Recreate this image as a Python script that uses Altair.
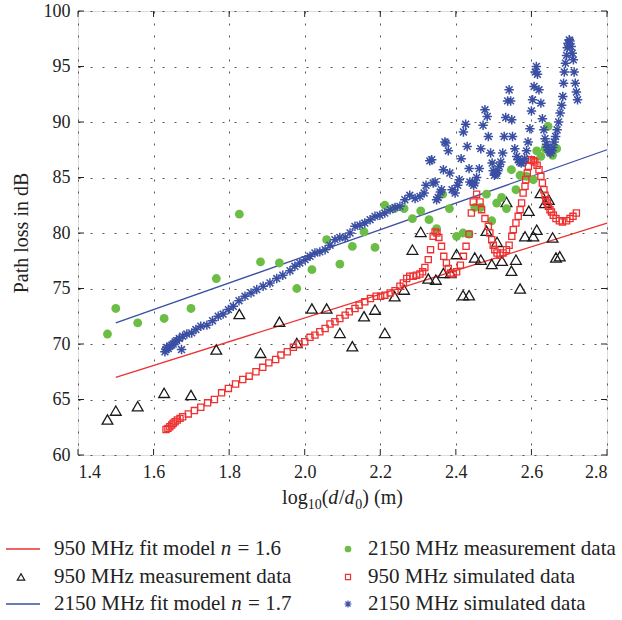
import altair as alt
import pandas as pd

# ---------------- data ----------------
fit950_x = [1.5, 2.8]
fit950_y = [67.0, 80.9]
fit2150_x = [1.5, 2.8]
fit2150_y = [71.9, 87.5]

meas950_x = [1.478, 1.500, 1.558, 1.628, 1.699, 1.766, 1.827, 1.883, 1.933, 1.979,
             2.019, 2.058, 2.093, 2.126, 2.157, 2.186, 2.212, 2.238, 2.263, 2.285,
             2.307, 2.327, 2.347, 2.367, 2.386, 2.402, 2.419, 2.435, 2.450, 2.466,
             2.481, 2.495, 2.509, 2.522, 2.534, 2.547, 2.559, 2.570, 2.583, 2.593,
             2.605, 2.614, 2.624, 2.636, 2.646, 2.656, 2.665, 2.675]
meas950_y = [63.2, 64.0, 64.4, 65.6, 65.4, 69.5, 72.7, 69.2, 72.0, 70.1,
             73.2, 73.2, 71.0, 69.8, 72.5, 73.1, 71.0, 74.3, 74.9, 78.5,
             80.1, 75.9, 75.8, 76.4, 76.4, 78.1, 74.4, 74.4, 77.8, 77.6,
             80.2, 77.2, 79.2, 77.5, 82.8, 76.6, 77.6, 75.0, 79.7, 82.0,
             79.7, 80.3, 83.6, 82.7, 83.0, 79.6, 77.8, 77.9]

meas2150_x = [1.478, 1.500, 1.558, 1.628, 1.699, 1.766, 1.827, 1.883, 1.933, 1.979,
              2.019, 2.058, 2.093, 2.126, 2.157, 2.186, 2.212, 2.237, 2.263, 2.285,
              2.307, 2.329, 2.349, 2.365, 2.383, 2.402, 2.419, 2.435, 2.450, 2.466,
              2.481, 2.495, 2.508, 2.521, 2.534, 2.547, 2.559, 2.570, 2.587, 2.605,
              2.614, 2.625, 2.636, 2.644, 2.656, 2.667]
meas2150_y = [70.9, 73.2, 71.9, 72.3, 73.2, 75.9, 81.7, 77.4, 77.3, 75.0,
              76.7, 79.4, 77.2, 78.8, 80.1, 78.7, 82.5, 82.2, 82.2, 81.3,
              82.0, 81.2, 80.4, 83.5, 82.2, 79.7, 80.0, 79.9, 82.3, 82.3,
              83.5, 81.1, 82.7, 83.2, 82.2, 85.7, 83.9, 85.2, 85.1, 84.8,
              87.4, 86.9, 87.6, 89.6, 87.0, 87.6]

sim950_x = [1.633, 1.638, 1.643, 1.648, 1.652, 1.657, 1.663, 1.670, 1.677, 1.692,
            1.708, 1.725, 1.743, 1.761, 1.780, 1.798, 1.817, 1.836, 1.853, 1.871,
            1.889, 1.905, 1.923, 1.937, 1.954, 1.970, 1.985, 2.000, 2.014, 2.027,
            2.040, 2.054, 2.067, 2.080, 2.093, 2.107, 2.118, 2.133, 2.144, 2.159,
            2.174, 2.189, 2.201, 2.212, 2.226, 2.239, 2.252, 2.261, 2.270, 2.278,
            2.287, 2.296, 2.305, 2.312, 2.318, 2.327, 2.333, 2.340, 2.345, 2.350,
            2.355, 2.362, 2.368, 2.375, 2.380, 2.386, 2.393, 2.402, 2.412, 2.420,
            2.427, 2.435, 2.441, 2.446, 2.455, 2.464, 2.468, 2.477, 2.486, 2.490,
            2.495, 2.499, 2.503, 2.509, 2.517, 2.525, 2.534, 2.541, 2.548, 2.552,
            2.559, 2.565, 2.570, 2.574, 2.578, 2.583, 2.585, 2.589, 2.592, 2.596,
            2.600, 2.605, 2.609, 2.615, 2.620, 2.625, 2.629, 2.633, 2.636, 2.638,
            2.642, 2.645, 2.649, 2.653, 2.658, 2.665, 2.674, 2.682, 2.693, 2.702,
            2.710, 2.719]
sim950_y = [62.3, 62.4, 62.55, 62.7, 62.86, 63.0, 63.15, 63.3, 63.45, 63.7,
            64.0, 64.3, 64.7, 65.0, 65.6, 66.0, 66.4, 66.8, 67.1, 67.5,
            67.9, 68.3, 68.6, 69.0, 69.3, 69.7, 70.0, 70.2, 70.6, 70.8,
            71.1, 71.4, 71.8, 72.0, 72.3, 72.6, 72.9, 73.2, 73.5, 73.8,
            74.1, 74.3, 74.3, 74.4, 74.6, 74.8, 75.2, 75.5, 75.9, 76.1,
            76.1, 76.2, 76.3, 76.5, 76.9, 77.6, 78.5, 79.7, 80.1, 80.0,
            79.6, 78.8, 77.9, 77.3, 76.8, 76.4, 76.3, 76.5, 77.1, 77.9,
            78.8, 79.9, 81.8, 82.8, 83.5, 82.8, 82.1, 81.3, 80.6, 80.0,
            79.4, 78.9, 78.5, 78.2, 78.0, 78.2, 78.5, 78.9, 79.7, 80.3,
            80.9, 81.5, 82.1, 82.7, 83.6, 84.2, 84.8, 85.4, 86.0, 86.6,
            86.6, 86.5, 86.4, 86.1, 85.7, 85.1, 84.5, 83.9, 83.4, 83.0,
            82.7, 82.4, 82.1, 81.9, 81.6, 81.3, 81.1, 81.0, 81.1, 81.3,
            81.5, 81.8]

sim2150_x = [1.630, 1.633, 1.635, 1.639, 1.643, 1.648, 1.652, 1.657, 1.661, 1.668,
             1.674, 1.677, 1.688, 1.701, 1.712, 1.725, 1.741, 1.756, 1.771, 1.784,
             1.798, 1.811, 1.826, 1.842, 1.858, 1.873, 1.890, 1.908, 1.926, 1.942,
             1.961, 1.974, 1.987, 2.001, 2.014, 2.027, 2.040, 2.054, 2.067, 2.080,
             2.093, 2.107, 2.120, 2.133, 2.146, 2.159, 2.173, 2.186, 2.199, 2.212,
             2.226, 2.239, 2.252, 2.265, 2.278, 2.292, 2.305, 2.316, 2.321, 2.331,
             2.336, 2.340, 2.345, 2.349, 2.353, 2.359, 2.362, 2.367, 2.371, 2.374,
             2.380, 2.384, 2.390, 2.398, 2.405, 2.409, 2.414, 2.420, 2.426, 2.430,
             2.435, 2.437, 2.443, 2.447, 2.450, 2.455, 2.462, 2.466, 2.472, 2.477,
             2.483, 2.486, 2.492, 2.496, 2.499, 2.502, 2.505, 2.508, 2.511, 2.515,
             2.519, 2.524, 2.528, 2.532, 2.537, 2.541, 2.545, 2.548, 2.550, 2.556,
             2.561, 2.565, 2.569, 2.573, 2.578, 2.582, 2.587, 2.591, 2.596, 2.600,
             2.603, 2.607, 2.610, 2.613, 2.616, 2.620, 2.625, 2.629, 2.633, 2.636,
             2.640, 2.642, 2.645, 2.648, 2.651, 2.654, 2.657, 2.660, 2.664, 2.668,
             2.672, 2.676, 2.680, 2.683, 2.685, 2.687, 2.690, 2.693, 2.695, 2.697,
             2.700, 2.702, 2.705, 2.708, 2.711, 2.713, 2.716, 2.719, 2.722]
sim2150_y = [69.3, 69.5, 69.7, 69.6, 69.8, 69.9, 70.0, 70.2, 70.3, 70.5,
             69.5, 70.7, 70.9, 71.0, 71.3, 71.6, 71.7, 72.1, 72.5, 72.7,
             73.1, 73.4, 73.9, 74.3, 74.6, 74.9, 75.2, 75.5, 75.9, 76.2,
             76.6, 77.0, 77.3, 77.6, 77.9, 78.2, 78.3, 78.5, 78.9, 79.4,
             79.6, 79.6, 80.0, 80.6, 80.7, 80.9, 81.2, 81.5, 81.6, 81.8,
             82.1, 82.3, 82.4, 83.0, 83.4, 83.1, 83.3, 83.6, 84.3, 86.5,
             86.6, 84.5, 84.6, 83.0, 83.2, 83.7, 83.9, 85.7, 88.2, 88.1,
             87.4, 85.4, 83.9, 83.6, 84.3, 84.8, 86.7, 89.1, 89.8, 87.8,
             85.8, 84.6, 84.5, 84.3, 84.5, 85.0, 85.8, 87.6, 89.7, 91.1,
             90.5, 88.7, 87.2, 86.3, 85.6, 85.2, 85.3, 85.4, 85.6, 86.0,
             86.4, 87.2, 88.7, 90.4, 91.9, 92.9, 91.9, 90.2, 88.7, 87.6,
             86.9, 86.6, 86.4, 86.3, 86.4, 86.7, 87.4, 88.2, 89.4, 91.0,
             92.0, 93.2, 94.5, 95.0, 94.3, 92.9, 91.7, 90.3, 89.3, 88.5,
             88.0, 87.7, 87.5, 87.3, 87.2, 87.4, 87.7, 88.2, 88.7, 89.3,
             90.0, 90.8, 91.5, 92.3, 93.5, 94.5, 95.3, 96.0, 96.7, 97.1,
             97.4, 97.3, 96.8, 96.2, 95.6, 94.5, 93.5, 92.7, 92.0]

x_ticks = [1.4, 1.6, 1.8, 2.0, 2.2, 2.4, 2.6, 2.8]
y_ticks = [60, 65, 70, 75, 80, 85, 90, 95, 100]

legend_labels = ["950 MHz fit model", "950 MHz measurement data", "2150 MHz fit model",
                 "2150 MHz measurement data", "950 MHz simulated data", "2150 MHz simulated data"]
legend_n_values = ["= 1.6", "= 1.7"]

# ---------------- style ----------------
FONT = "Liberation Serif"
RED = "#ee3030"
BLUE = "#3a4fa3"
GREEN = "#6cbd45"
BLACK = "#1a1a1a"
W, H = 529, 444
PL, PT = 78, 11
STAR = "M-1,0L1,0M0,-1L0,1M-0.72,-0.72L0.72,0.72M-0.72,0.72L0.72,-0.72"

# Times (Liberation Serif) advance widths per 1000 em, for placing text pieces
TW = {" ": 250, "l": 278, "o": 500, "g": 500, "(": 333, ")": 333, "/": 278, "m": 778,
      "d": 500, "n": 500, "=": 564, ".": 250, "M": 889, "H": 722, "z": 444, "f": 333,
      "i": 278, "t": 278, "e": 444}
for c in "0123456789":
    TW[c] = 500


def tw(s, size):
    return sum(TW.get(c, 500) for c in s) * size / 1000.0


xs = alt.Scale(domain=[1.4, 2.8], nice=False, zero=False)
ys = alt.Scale(domain=[60, 100], nice=False, zero=False)
xaxis = alt.Axis(values=x_ticks, format=".1f", title=None, grid=True, gridDash=[2, 10],
                 gridColor="#555", gridWidth=1, domain=False, ticks=False,
                 labelFont=FONT, labelFontSize=18, labelColor="#222", labelPadding=8)
yaxis = alt.Axis(values=y_ticks, format="d", title=None, grid=True, gridDash=[2, 10],
                 gridColor="#555", gridWidth=1, domain=False, ticks=False,
                 labelFont=FONT, labelFontSize=18, labelColor="#222", labelPadding=8)


def X(f="x"):
    return alt.X(f + ":Q", scale=xs, axis=xaxis, title=None)


def Y(f="y"):
    return alt.Y(f + ":Q", scale=ys, axis=yaxis, title=None)


df_f950 = pd.DataFrame({"x": fit950_x, "y": fit950_y})
df_f2150 = pd.DataFrame({"x": fit2150_x, "y": fit2150_y})
df_m950 = pd.DataFrame({"x": meas950_x, "y": meas950_y})
df_m2150 = pd.DataFrame({"x": meas2150_x, "y": meas2150_y})
df_s950 = pd.DataFrame({"x": sim950_x, "y": sim950_y})
df_s2150 = pd.DataFrame({"x": sim2150_x, "y": sim2150_y})
df_xt = pd.DataFrame({"v": x_ticks})
df_yt = pd.DataFrame({"v": y_ticks})
one = pd.DataFrame({"k": [0]})

layers = []
layers.append(alt.Chart(df_f950).mark_line(color=RED, strokeWidth=1.3).encode(x=X(), y=Y()))
layers.append(alt.Chart(df_f2150).mark_line(color=BLUE, strokeWidth=1.3).encode(x=X(), y=Y()))
layers.append(alt.Chart(df_m950).mark_point(shape="triangle-up", filled=False, color=BLACK,
                                             strokeWidth=1.3, size=115, opacity=1).encode(x=X(), y=Y()))
layers.append(alt.Chart(df_m2150).mark_circle(color=GREEN, size=78, opacity=1).encode(x=X(), y=Y()))
layers.append(alt.Chart(df_s950).mark_point(shape="square", filled=False, color=RED,
                                             strokeWidth=1.3, size=38, opacity=1).encode(x=X(), y=Y()))
layers.append(alt.Chart(df_s2150).mark_point(shape=STAR, filled=False, color=BLUE,
                                              strokeWidth=1.5, size=90, opacity=1).encode(x=X(), y=Y()))

# inward ticks on all four sides
layers.append(alt.Chart(df_yt).mark_rule(color="#222").encode(y=Y("v"), x=alt.value(0), x2=alt.value(6)))
layers.append(alt.Chart(df_yt).mark_rule(color="#222").encode(y=Y("v"), x=alt.value(W - 6), x2=alt.value(W)))
layers.append(alt.Chart(df_xt).mark_rule(color="#222").encode(x=X("v"), y=alt.value(H - 6), y2=alt.value(H)))
layers.append(alt.Chart(df_xt).mark_rule(color="#222").encode(x=X("v"), y=alt.value(0), y2=alt.value(6)))

# y-axis title
layers.append(alt.Chart(one).mark_text(text="Path loss in dB", font=FONT, fontSize=20, angle=270,
                                       align="center", baseline="middle", color="#222")
              .encode(x=alt.value(22 - PL), y=alt.value(233 - PT)))

# x-axis title built from pieces: log10(d/d0) (m)
MS, SS = 20, 14
pieces = [("log", MS, "normal", 0), ("10", SS, "normal", 5), ("(", MS, "normal", 0),
          ("d", MS, "italic", 0), ("/", MS, "normal", 0), ("d", MS, "italic", 0),
          ("0", SS, "normal", 5), (")", MS, "normal", 0), ("(m)", MS, "normal", 0)]
total = sum(tw(p[0], p[1]) for p in pieces) + tw(" ", MS) + 1.5
cx = (PL + PL + W) / 2.0 - total / 2.0
base_y = 504
for s, sz, st, dy in pieces:
    if s == "(m)":
        cx += tw(" ", MS)
    layers.append(alt.Chart(one).mark_text(text=s, font=FONT, fontSize=sz, fontStyle=st, align="left",
                                           baseline="alphabetic", color="#222")
                  .encode(x=alt.value(cx - PL), y=alt.value(base_y + dy - PT)))
    cx += tw(s, sz) + (0.75 if st == "italic" else 0)

# legend
LF = 21
rows = [549, 577, 604]
LX_T, RX_S, RX_T = 54, 348, 368
# left column symbols
layers.append(alt.Chart(one).mark_rule(color=RED, strokeWidth=1.3)
              .encode(x=alt.value(6 - PL), x2=alt.value(40 - PL), y=alt.value(rows[0] - PT)))
layers.append(alt.Chart(one).mark_point(shape="triangle-up", filled=False, color=BLACK, strokeWidth=1.2,
                                        size=55, opacity=1)
              .encode(x=alt.value(21 - PL), y=alt.value(rows[1] - PT)))
layers.append(alt.Chart(one).mark_rule(color=BLUE, strokeWidth=1.3)
              .encode(x=alt.value(6 - PL), x2=alt.value(40 - PL), y=alt.value(rows[2] - PT)))
# right column symbols
layers.append(alt.Chart(one).mark_circle(color=GREEN, size=45, opacity=1)
              .encode(x=alt.value(RX_S - PL), y=alt.value(rows[0] - PT)))
layers.append(alt.Chart(one).mark_point(shape="square", filled=False, color=RED, strokeWidth=1.2,
                                        size=26, opacity=1)
              .encode(x=alt.value(RX_S - PL), y=alt.value(rows[1] - PT)))
layers.append(alt.Chart(one).mark_point(shape=STAR, filled=False, color=BLUE, strokeWidth=1.2,
                                        size=50, opacity=1)
              .encode(x=alt.value(RX_S - PL), y=alt.value(rows[2] - PT)))


def txt(s, x, y, style="normal"):
    return (alt.Chart(one).mark_text(text=s, font=FONT, fontSize=LF, fontStyle=style, align="left",
                                     baseline="middle", color="#222")
            .encode(x=alt.value(x - PL), y=alt.value(y - PT)))


# left column texts (fit models with italic n)
for lbl, nv, ry in [(legend_labels[0], legend_n_values[0], rows[0]),
                    (legend_labels[2], legend_n_values[1], rows[2])]:
    layers.append(txt(lbl, LX_T, ry))
    nx = LX_T + tw(lbl + " ", LF)
    layers.append(txt("n", nx, ry, "italic"))
    layers.append(txt(nv, nx + tw("n ", LF) + 1, ry))
layers.append(txt(legend_labels[1], LX_T, rows[1]))
for lbl, ry in zip(legend_labels[3:], rows):
    layers.append(txt(lbl, RX_T, ry))

chart = (alt.layer(*layers)
         .properties(width=W, height=H,
                     padding={"left": PL, "top": PT, "right": 622 - PL - W, "bottom": 620 - PT - H},
                     autosize=alt.AutoSizeParams(type="none"))
         .configure_view(stroke="#222", strokeWidth=1.4)
         .configure(background="white"))

chart.save("out.html", embed_options={"renderer": "svg", "actions": False})
